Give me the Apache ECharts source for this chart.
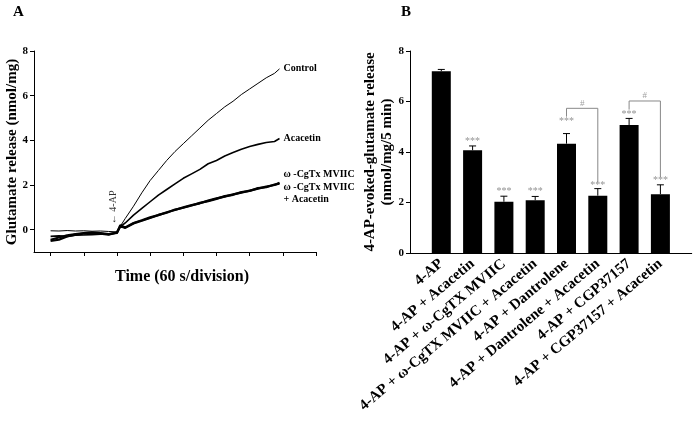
<!DOCTYPE html>
<html><head><meta charset="utf-8">
<script src="https://cdn.jsdelivr.net/npm/echarts@6/dist/echarts.min.js"></script>
<style>html,body{margin:0;padding:0;background:#fff}#c{width:694px;height:435px}</style>
</head><body><div id="c"></div>
<script>
// ---------- Panel A data (time in divisions of 60 s, release in nmol/mg) ----------
const timeDiv = [0,0.25,0.5,0.75,1,1.25,1.5,1.75,2,2.1,2.25,2.5,2.75,3,3.25,3.5,3.75,4,4.25,4.5,4.75,5,5.25,5.5,5.75,6,6.25,6.5,6.75,6.9];
const controlRelease = [-0.05,-0.06,-0.04,-0.06,-0.05,-0.07,-0.06,-0.08,-0.1,0.15,0.5,1.05,1.65,2.2,2.65,3.1,3.5,3.85,4.2,4.55,4.9,5.2,5.5,5.75,6.05,6.3,6.55,6.8,7.0,7.2];
const acacetinRelease = [-0.3,-0.28,-0.3,-0.25,-0.24,-0.22,-0.2,-0.18,-0.15,0.12,0.3,0.65,0.95,1.25,1.55,1.8,2.05,2.3,2.5,2.7,2.95,3.1,3.3,3.45,3.6,3.72,3.82,3.9,3.95,4.08];
const mviicRelease = [-0.45,-0.35,-0.25,-0.2,-0.15,-0.12,-0.15,-0.2,-0.15,0.2,0.1,0.3,0.42,0.55,0.65,0.78,0.88,1.0,1.1,1.18,1.3,1.4,1.48,1.58,1.66,1.75,1.84,1.93,2.0,2.1];
const mviicAcacetinRelease = [-0.5,-0.45,-0.3,-0.22,-0.18,-0.15,-0.18,-0.22,-0.12,0.15,0.08,0.28,0.4,0.52,0.66,0.76,0.9,0.98,1.08,1.2,1.28,1.38,1.5,1.56,1.68,1.73,1.86,1.9,2.02,2.06];
const yTicksA = [0,2,4,6,8];
const xTicksA = [0,1,2,3,4,5,6,7,8];

// ---------- Panel B data ----------
const categoriesB = ['4-AP','4-AP + Acacetin','4-AP + \u03c9-CgTX MVIIC','4-AP + \u03c9-CgTX MVIIC + Acacetin','4-AP + Dantrolene','4-AP + Dantrolene + Acacetin','4-AP + CGP37157','4-AP + CGP37157 + Acacetin'];
const valuesB = [7.2,4.07,2.03,2.09,4.33,2.27,5.07,2.33];
const errorsB = [0.07,0.17,0.22,0.15,0.4,0.28,0.26,0.37];
const starLabels = ['','***','***','***','***','***','***','***'];
const starLevels = [0,4.42,2.43,2.43,5.22,2.68,5.5,2.86];
const yTicksB = [0,2,4,6,8];
const bracketPairs = [[4,5],[6,7]];
const bracketTops = [5.73,6.02];
const bracketLeftEnds = [5.4,5.68];
const bracketRightEnds = [2.8,3.0];
const hashLevels = [5.92,6.22];
const addTimeA = 2;

const serif = '"Liberation Serif","Times New Roman",serif';
const chart = echarts.init(document.getElementById('c'), null, {renderer:'canvas'});

function lineSeries(name, data, width, lbl){
  return {
    type:'line', name, xAxisIndex:0, yAxisIndex:0, showSymbol:false, symbol:'none',
    data: timeDiv.map((t,i)=>[t,data[i]]),
    lineStyle:{color:'#000', width},
    endLabel:{show:true, formatter:lbl.text, offset:lbl.off,
      fontFamily:serif, fontWeight:'bold', fontSize:10, color:'#000', lineHeight:12, distance:4},
    animation:false, silent:true
  };
}

const errTops = valuesB.map((v,i)=>v+errorsB[i]);

const series = [
  lineSeries('Control', controlRelease, 1, {text:'Control', off:[0,0]}),
  lineSeries('Acacetin', acacetinRelease, 1.6, {text:'Acacetin', off:[0,0]}),
  lineSeries('MVIIC', mviicRelease, 2.2, {text:'\u03c9 -CgTx MVIIC', off:[0,-8]}),
  lineSeries('MVIIC+Acacetin', mviicAcacetinRelease, 2.2, {text:'\u03c9 -CgTx MVIIC\n+ Acacetin', off:[0,10]}),
  {
    type:'bar', xAxisIndex:1, yAxisIndex:1, barWidth:19,
    data: valuesB.map((v,i)=>[i,v]), itemStyle:{color:'#000'}, animation:false, silent:true
  },
  {
    type:'custom', xAxisIndex:1, yAxisIndex:1, animation:false, silent:true, clip:false,
    data: errTops.map((v,i)=>[i, v]),
    renderItem:(params, api)=>{
      const i = params.dataIndex;
      const p1 = api.coord([api.value(0), api.value(1)]);
      const p0 = api.coord([api.value(0), valuesB[i]]);
      const hw = 3.5;
      return {type:'group', children:[
        {type:'line', shape:{x1:p0[0],y1:p0[1],x2:p1[0],y2:p1[1]}, style:{stroke:'#000',lineWidth:1}},
        {type:'line', shape:{x1:p1[0]-hw,y1:p1[1],x2:p1[0]+hw,y2:p1[1]}, style:{stroke:'#000',lineWidth:1}}
      ]};
    }, z:3
  },
  {
    type:'scatter', xAxisIndex:1, yAxisIndex:1, symbolSize:0, animation:false, silent:true,
    data: starLabels.map((s,i)=>({value:[i, starLevels[i]], label:{formatter:s}})).filter((d,i)=>starLabels[i]),
    label:{show:true, position:'inside', color:'#777', fontSize:10, fontFamily:serif}
  },
  ...bracketPairs.map((pr,k)=>({
    type:'line', xAxisIndex:1, yAxisIndex:1, symbol:'none', animation:false, silent:true,
    data:[[pr[0],bracketLeftEnds[k]],[pr[0],bracketTops[k]],[pr[1],bracketTops[k]],[pr[1],bracketRightEnds[k]]],
    lineStyle:{color:'#888', width:1}
  })),
  {
    type:'scatter', xAxisIndex:1, yAxisIndex:1, symbolSize:0, animation:false, silent:true,
    data: bracketPairs.map((pr,k)=>[(pr[0]+pr[1])/2, hashLevels[k]]),
    label:{show:true, position:'inside', formatter:'#', color:'#888', fontSize:9, fontFamily:serif}
  },
  {
    // 4-AP addition marker, just left of the addition time
    type:'scatter', xAxisIndex:0, yAxisIndex:0, symbolSize:0, animation:false, silent:true,
    data:[[addTimeA - 0.12, 1.0]],
    label:{show:true, position:'inside', rotate:90, formatter:'\u2190 4-AP', fontSize:10, fontFamily:serif, color:'#000'}
  }
];

const axisTxt = {fontFamily:serif, fontWeight:'bold', color:'#000'};

chart.setOption({
  backgroundColor:'#fff',
  animation:false,
  grid:[
    {left:34, top:51, width:282, height:201},
    {left:410, top:51, width:282, height:202}
  ],
  xAxis:[
    {type:'value', gridIndex:0, min:-0.5, max:8,
      axisLine:{onZero:false, lineStyle:{color:'#000', width:1}},
      axisTick:{show:true, length:4, customValues:xTicksA, lineStyle:{color:'#000'}},
      axisLabel:{show:false}, splitLine:{show:false}},
    {type:'value', gridIndex:1, min:-1, max:8, interval:1,
      axisLine:{onZero:false, lineStyle:{color:'#000', width:1}},
      axisTick:{show:false}, splitLine:{show:false},
      axisLabel:{rotate:40, margin:9, fontSize:15, ...axisTxt, hideOverlap:false,
        formatter:(v)=> (Number.isInteger(v) && categoriesB[v]) ? categoriesB[v] : ''}}
  ],
  yAxis:[
    {type:'value', gridIndex:0, min:-1, max:8,
      axisLine:{show:true, onZero:false, lineStyle:{color:'#000', width:1}},
      axisTick:{show:true, length:4, customValues:yTicksA, lineStyle:{color:'#000'}},
      axisLabel:{customValues:yTicksA, fontSize:11, margin:6, ...axisTxt},
      splitLine:{show:false}},
    {type:'value', gridIndex:1, min:0, max:8,
      axisLine:{show:true, onZero:false, lineStyle:{color:'#000', width:1}},
      axisTick:{show:true, length:4, customValues:yTicksB, lineStyle:{color:'#000'}},
      axisLabel:{customValues:yTicksB, fontSize:11, margin:6, ...axisTxt},
      splitLine:{show:false}}
  ],
  series,
  graphic:[
    {type:'text', left:13, top:5, style:{text:'A', font:'bold 15px '+serif, fill:'#000'}},
    {type:'text', left:401, top:5, style:{text:'B', font:'bold 15px '+serif, fill:'#000'}},
    {type:'text', x:12, y:152, rotation:Math.PI/2,
      style:{text:'Glutamate release (nmol/mg)', font:'bold 15px '+serif, fill:'#000', align:'center', verticalAlign:'middle'}},
    {type:'text', x:182, y:277,
      style:{text:'Time (60 s/division)', font:'bold 16px '+serif, fill:'#000', align:'center', verticalAlign:'middle'}},
    {type:'text', x:379, y:152, rotation:Math.PI/2,
      style:{text:'4-AP-evoked-glutamate release\n(nmol/mg/5 min)', font:'bold 15px '+serif, fill:'#000', align:'center', verticalAlign:'middle', lineHeight:17}}
  ]
});
</script></body></html>
